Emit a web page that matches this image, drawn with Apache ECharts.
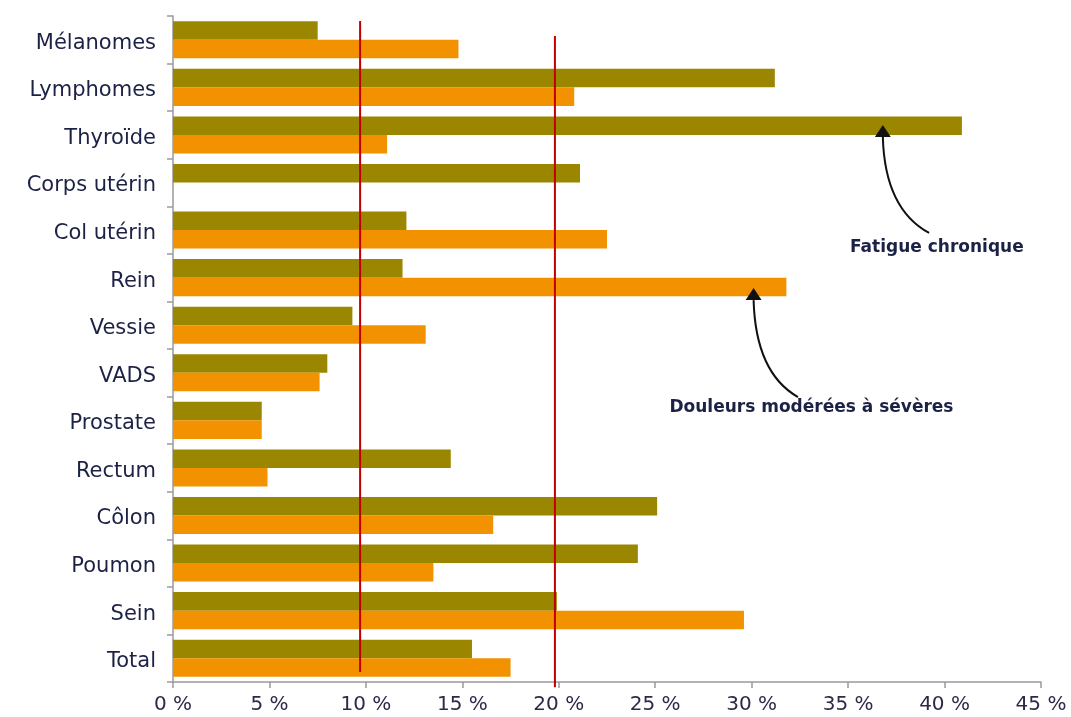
<!DOCTYPE html>
<html><head><meta charset="utf-8">
<script src="https://cdn.jsdelivr.net/npm/echarts@6/dist/echarts.min.js"></script>
<style>html,body{margin:0;padding:0;background:#fff}#main{width:1071px;height:717px}</style>
</head><body><div id="main"></div>
<script>
const categories = ['Mélanomes','Lymphomes','Thyroïde','Corps utérin','Col utérin','Rein','Vessie','VADS','Prostate','Rectum','Côlon','Poumon','Sein','Total'];
const fatigue = [7.5, 31.2, 40.9, 21.1, 12.1, 11.9, 9.3, 8.0, 4.6, 14.4, 25.1, 24.1, 19.9, 15.5];
const douleurs = [14.8, 20.8, 11.1, null, 22.5, 31.8, 13.1, 7.6, 4.6, 4.9, 16.6, 13.5, 29.6, 17.5];
const xTicks = [0, 5, 10, 15, 20, 25, 30, 35, 40, 45];
const refLines = [9.7, 19.8];
const seriesNames = ['Fatigue chronique', 'Douleurs modérées à sévères'];

const chart = echarts.init(document.getElementById('main'), null, {renderer:'canvas'});
const textColor = '#1c2146';
chart.setOption({
  animation: false,
  grid: {left: 173, right: 30, top: 16, bottom: 35, containLabel: false},
  xAxis: {
    type: 'value', min: xTicks[0], max: xTicks[xTicks.length-1], interval: 5,
    axisLine: {show: true, lineStyle: {color: '#9a9a9a', width: 1.5}},
    axisTick: {show: true, length: 6, lineStyle: {color: '#9a9a9a', width: 1.5}},
    splitLine: {show: false},
    axisLabel: {formatter: '{value} %', fontFamily: 'DejaVu Sans', fontSize: 20, color: '#2b2b48', margin: 13}
  },
  yAxis: {
    type: 'category', data: categories, inverse: true,
    axisLine: {show: true, lineStyle: {color: '#9a9a9a', width: 1.5}},
    axisTick: {show: true, length: 6, lineStyle: {color: '#9a9a9a', width: 1.5}},
    axisLabel: {
      formatter: v => '{a|' + v + '}',
      margin: 17,
      rich: {a: {fontFamily: 'DejaVu Sans', fontSize: 21, color: textColor, padding: [7, 0, 0, 0]}}
    }
  },
  series: [
    {name: seriesNames[0], type: 'bar', data: fatigue, barGap: '0%', barCategoryGap: '22%',
     itemStyle: {color: '#9b8600'}},
    {name: seriesNames[1], type: 'bar', data: douleurs, barGap: '0%', barCategoryGap: '22%',
     itemStyle: {color: '#f29200'}}
  ]
});

function toPx(v, catPos) {
  const x = chart.convertToPixel({xAxisIndex: 0}, v);
  const y0 = chart.convertToPixel({yAxisIndex: 0}, categories[0]);
  const y1 = chart.convertToPixel({yAxisIndex: 0}, categories[1]);
  return [x, y0 + catPos * (y1 - y0)];
}

const refExtent = [[-0.395, 13.29], [-0.08, 13.61]];
const annotations = [
  {text: seriesNames[0], tip: [36.8, 1.79], from: [39.2, 4.06], label: [39.6, 4.36]},
  {text: seriesNames[1], tip: [30.1, 5.22], from: [32.4, 7.51], label: [33.1, 7.74]}
];

const graphic = [];
refLines.forEach((v, i) => {
  const a = toPx(v, refExtent[i][0]);
  const b = toPx(v, refExtent[i][1]);
  graphic.push({type: 'line', shape: {x1: a[0], y1: a[1], x2: b[0], y2: b[1]},
    style: {stroke: '#c00000', lineWidth: 2}, z: 10});
});
annotations.forEach(an => {
  const tip = toPx(an.tip[0], an.tip[1]);
  const base = [tip[0], tip[1] + 12];
  const from = toPx(an.from[0], an.from[1]);
  const lab = toPx(an.label[0], an.label[1]);
  graphic.push({type: 'bezierCurve',
    shape: {x1: base[0], y1: base[1], x2: from[0], y2: from[1],
            cpx1: base[0] + 2, cpy1: base[1] + 0.75 * (from[1] - base[1])},
    style: {stroke: '#111', lineWidth: 2, fill: null}, z: 10});
  graphic.push({type: 'polygon',
    shape: {points: [[tip[0], tip[1]], [tip[0] - 8, base[1]], [tip[0] + 8, base[1]]]},
    style: {fill: '#111'}, z: 11});
  graphic.push({type: 'text', x: lab[0], y: lab[1],
    style: {text: an.text, fontFamily: 'DejaVu Sans', fontWeight: 'bold', fontSize: 17,
            fill: textColor, align: 'center', verticalAlign: 'middle'}, z: 11});
});
chart.setOption({graphic: graphic});
</script>
</body></html>
